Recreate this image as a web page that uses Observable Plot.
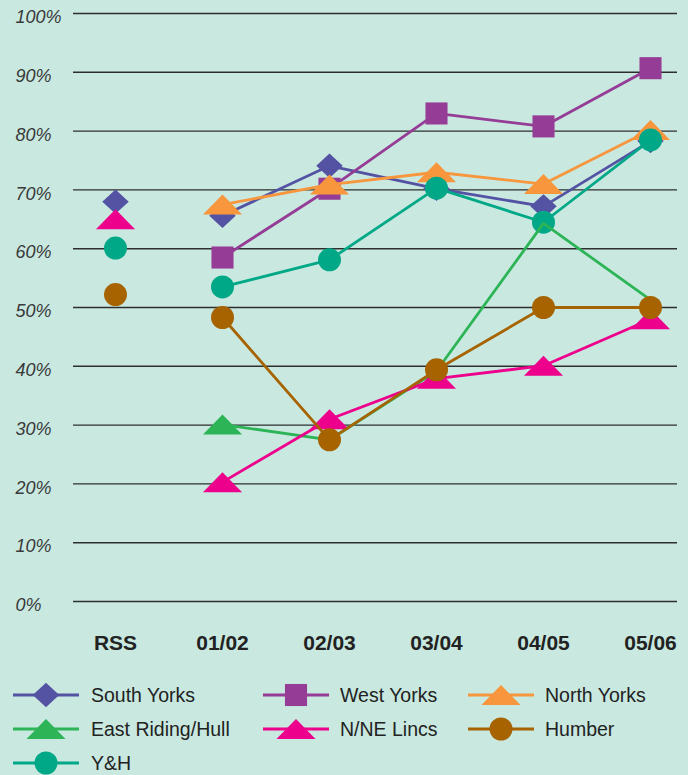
<!DOCTYPE html>
<html>
<head>
<meta charset="utf-8">
<script src="https://cdn.jsdelivr.net/npm/d3@7"></script>
<script src="https://cdn.jsdelivr.net/npm/@observablehq/plot@0.6"></script>
<style>
  html, body { margin: 0; padding: 0; background: #c9e9e0; }
  body { width: 688px; height: 775px; overflow: hidden; font-family: "Liberation Sans", Arial, Helvetica, sans-serif; }
  #legend { position: relative; width: 688px; height: 110px; }
  .item { position: absolute; height: 34px; display: flex; align-items: center; }
  .item svg { display: block; }
  .item span { position: absolute; font-size: 19.5px; color: #222; white-space: nowrap; }
</style>
</head>
<body>
<div id="chart"></div>
<div id="legend"></div>
<script>
// ---- data ----
const categories = ["RSS", "01/02", "02/03", "03/04", "04/05", "05/06"];
const seriesNames = ["South Yorks", "West Yorks", "North Yorks", "East Riding/Hull", "N/NE Lincs", "Humber", "Y&H"];
const southYorks     = [68,   65.6, 74.1, 70.2, 67.2, 78.3];
const westYorks      = [null, 58.5, 70.2, 83.0, 80.8, 90.7];
const northYorks     = [null, 67.5, 70.9, 73.0, 71.0, 80.2];
const eastRidingHull = [null, 30.1, 27.5, 39.2, 64.3, 51.3];
const nneLincs       = [65,   20.3, 31.0, 37.9, 40.1, 48.0];
const humber         = [52.2, 48.3, 27.5, 39.4, 50.0, 50.0];
const yh             = [60.1, 53.5, 58.1, 70.3, 64.5, 78.5];
const eastRidingMarkedAt = ["01/02"];
const yTicks = [0, 10, 20, 30, 40, 50, 60, 70, 80, 90, 100];
const lineStart = "01/02"; // RSS points stand alone

// ---- symbols ----
function rOf(size) { return Math.sqrt(size / Math.PI); }
const diamond = { draw(c, size) { const r = rOf(size); c.moveTo(0, -1.06 * r); c.lineTo(1.15 * r, 0); c.lineTo(0, 1.06 * r); c.lineTo(-1.15 * r, 0); c.closePath(); } };
const square = { draw(c, size) { const s = 0.96 * rOf(size); c.rect(-s, -s, 2 * s, 2 * s); } };
const triangle = { draw(c, size) { const r = rOf(size); const h = 0.87 * r, w = 1.7 * r; c.moveTo(0, -h); c.lineTo(w, h); c.lineTo(-w, h); c.closePath(); } };
const circle = { draw(c, size) { const r = rOf(size); c.moveTo(r, 0); c.arc(0, 0, r, 0, 2 * Math.PI); c.closePath(); } };

const styles = {
  "South Yorks":      { values: southYorks,     color: "#5352a3", symbol: diamond },
  "West Yorks":       { values: westYorks,      color: "#953d96", symbol: square },
  "North Yorks":      { values: northYorks,     color: "#f7963d", symbol: triangle },
  "East Riding/Hull": { values: eastRidingHull, color: "#2db457", symbol: triangle },
  "N/NE Lincs":       { values: nneLincs,       color: "#ec008c", symbol: triangle },
  "Humber":           { values: humber,         color: "#a66300", symbol: circle },
  "Y&H":              { values: yh,             color: "#00a887", symbol: circle }
};
const drawOrder = ["South Yorks", "West Yorks", "North Yorks", "Y&H", "East Riding/Hull", "N/NE Lincs", "Humber"];

const rows = [];
for (const name of seriesNames) {
  styles[name].values.forEach((v, i) => { if (v != null) rows.push({ series: name, cat: categories[i], idx: i, value: v }); });
}

const R = 11.5;
const seriesMarks = [];
for (const name of drawOrder) {
  const st = styles[name];
  const pts = rows.filter(d => d.series === name);
  const linePts = pts.filter(d => d.idx >= categories.indexOf(lineStart));
  const dotPts = name === "East Riding/Hull" ? pts.filter(d => eastRidingMarkedAt.includes(d.cat)) : pts;
  seriesMarks.push(Plot.line(linePts, { x: "cat", y: "value", stroke: st.color, strokeWidth: 2.8 }));
  seriesMarks.push(Plot.dot(dotPts, { x: "cat", y: "value", r: R, symbol: st.symbol, fill: st.color, stroke: "none" }));
}

const chart = Plot.plot({
  width: 688,
  height: 665,
  marginLeft: 73,
  marginRight: 11,
  marginTop: 13,
  marginBottom: 64,
  style: { background: "transparent", fontFamily: "'Liberation Sans', Arial, sans-serif", overflow: "visible" },
  x: { type: "point", domain: categories, range: [113.75, 651.25], padding: 0, axis: null },
  y: { domain: [0, 100], axis: null },
  r: { type: "identity" },
  marks: [
    Plot.ruleY(yTicks, { y: d => d, stroke: "#2e2e2e", strokeWidth: 1.4 }),
    Plot.text(yTicks, { y: d => d, text: d => d + "%", frameAnchor: "left", textAnchor: "start", dx: -58, dy: 4, fontStyle: "italic", fontSize: 18, fill: "#3a3a3a" }),
    Plot.text(categories, { x: d => d, text: d => d, frameAnchor: "bottom", dy: 42, lineAnchor: "middle", fontWeight: "bold", fontSize: 21, fill: "#222", fontFamily: "'Liberation Sans Narrow', 'Arial Narrow', 'Liberation Sans', sans-serif", letterSpacing: "1px" }),
    ...seriesMarks
  ]
});
document.getElementById("chart").appendChild(chart);

// ---- legend ----
const legendPos = [
  { x: 13, row: 0 }, { x: 263, row: 0 }, { x: 468, row: 0 },
  { x: 13, row: 1 }, { x: 263, row: 1 }, { x: 468, row: 1 },
  { x: 13, row: 2 }
];
const legend = document.getElementById("legend");
seriesNames.forEach((name, i) => {
  const st = styles[name];
  const pos = legendPos[i];
  const item = document.createElement("div");
  item.className = "item";
  item.style.left = pos.x + "px";
  item.style.top = (13 + pos.row * 34) + "px";
  const w = 66, h = 34;
  const svg = d3.create("svg").attr("width", w).attr("height", h).style("overflow", "visible");
  svg.append("line").attr("x1", 0).attr("x2", w).attr("y1", h / 2).attr("y2", h / 2).attr("stroke", st.color).attr("stroke-width", 3);
  svg.append("path").attr("transform", `translate(${w / 2},${h / 2})`).attr("d", d3.symbol(st.symbol, Math.PI * R * R)()).attr("fill", st.color);
  item.appendChild(svg.node());
  const span = document.createElement("span");
  span.textContent = name;
  span.style.left = (pos.x < 100 ? 78 : 77) + "px";
  item.appendChild(span);
  legend.appendChild(item);
});
</script>
</body>
</html>
